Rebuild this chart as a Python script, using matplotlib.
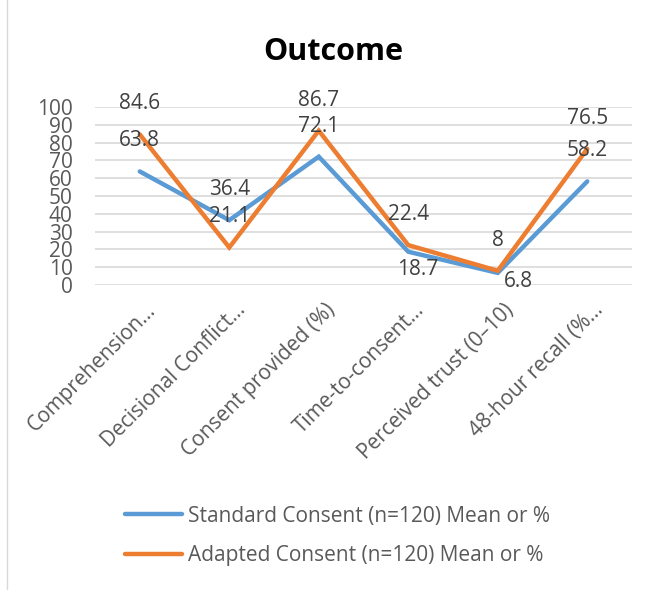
import matplotlib.pyplot as plt
from matplotlib.patches import Rectangle
from matplotlib.transforms import ScaledTranslation

categories = ['Comprehension…', 'Decisional Conflict…', 'Consent provided (%)',
              'Time-to-consent…', 'Perceived trust (0–10)', '48-hour recall (%…']
standard = [63.8, 36.4, 72.1, 18.7, 6.8, 58.2]
adapted = [84.6, 21.1, 86.7, 22.4, 8, 76.5]

blue = '#5B9BD5'
orange = '#ED7D31'
txt = '#404040'
fs = 15

plt.rcParams['font.family'] = ['Open Sans', 'DejaVu Sans']

fig = plt.figure(figsize=(6.54, 5.90), dpi=100)
fig.patches.append(Rectangle((7 / 654, -0.01), 1.2, 1.2, transform=fig.transFigure,
                             fill=False, edgecolor='#D9D9D9', lw=1))

ax = fig.add_axes([95 / 654, 1 - 285 / 590, 537 / 654, 178 / 590])
x = range(len(categories))

ax.plot(x, standard, color=blue, lw=3.2, solid_capstyle='round', solid_joinstyle='miter',
        label='Standard Consent (n=120) Mean or %', zorder=3)
ax.plot(x, adapted, color=orange, lw=3.2, solid_capstyle='round', solid_joinstyle='miter',
        label='Adapted Consent (n=120) Mean or %', zorder=4)

# label offsets in points (Excel pushed some standard labels below the line)
std_off = [(0, 22), (0, 22), (0, 22), (7, -13), (15, -6.5), (0, 22)]
for i, v in enumerate(adapted):
    ax.annotate(f'{v:g}', (i, v), xytext=(0, 22), textcoords='offset points',
                ha='center', va='center', fontsize=fs, color=txt, zorder=5)
for i, v in enumerate(standard):
    ax.annotate(f'{v:g}', (i, v), xytext=std_off[i], textcoords='offset points',
                ha='center', va='center', fontsize=fs, color=txt, zorder=5)

ax.set_xlim(-0.5, len(categories) - 0.5)
ax.set_ylim(0, 100)
ax.set_yticks(range(0, 101, 10))
ax.grid(axis='y', color='#D9D9D9', lw=1.2)
ax.set_axisbelow(True)
for s in ax.spines.values():
    s.set_visible(False)
ax.tick_params(length=0, labelsize=fs, colors='#595959', pad=16)
ax.tick_params(axis='x', pad=16)
ax.set_xticks(list(x))
ax.set_xticklabels(categories, rotation=45, ha='right', va='center', rotation_mode='anchor')
shift = ScaledTranslation(13 / 100, 0, fig.dpi_scale_trans)
for lab in ax.get_xticklabels():
    lab.set_transform(lab.get_transform() + shift)

fig.text(333 / 654, 1 - 52 / 590, 'Outcome', ha='center', va='center',
         fontsize=22, fontweight='bold', color='black')

fig.legend(loc='center left', bbox_to_anchor=(125 / 654, 1 - 536 / 590), ncol=1,
           frameon=False, fontsize=fs, handlelength=2.75, handletextpad=0.25,
           labelspacing=0.9, borderpad=0, borderaxespad=0, labelcolor='#595959')

fig.savefig('out.png', dpi=100)
